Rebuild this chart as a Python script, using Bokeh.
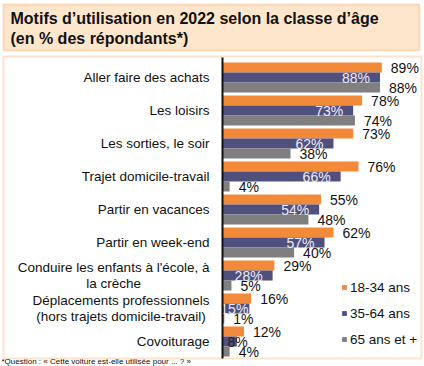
from bokeh.plotting import figure
from bokeh.models import (ColumnDataSource, Range1d, BoxAnnotation, Label,
                          Legend, LegendItem)
from bokeh.transform import dodge
from bokeh.embed import file_html
from bokeh.resources import INLINE

# ---- data ----
categories = [
    "Aller faire des achats",
    "Les loisirs",
    "Les sorties, le soir",
    "Trajet domicile-travail",
    "Partir en vacances",
    "Partir en week-end",
    "Conduire les enfants à l'école, à\nla crèche",
    "Déplacements professionnels\n(hors trajets domicile-travail)",
    "Covoiturage",
]
series_names = ["18-34 ans", "35-64 ans", "65 ans et +"]
age_18_34 = [89, 78, 73, 76, 55, 62, 29, 16, 12]
age_35_64 = [88, 73, 62, 66, 54, 57, 28, 15, 8]
age_65_plus = [88, 74, 38, 4, 48, 40, 5, 1, 4]

title_text = "Motifs d’utilisation en 2022 selon la classe d’âge\n(en % des répondants*)"
footnote_text = "*Question : « Cette voiture est-elle utilisée pour ... ? »"

# ---- style / layout ----
ORANGE = "#F38A3A"
BLUE = "#50507F"
GRAY = "#7F7F7F"
BORDER = "#F5A04E"
FONT = "Liberation Sans"

W, H = 424, 366
AX_X, AX_TOP, AX_BOT = 222, 57, 358     # value axis position in pixels
PX_PER_PCT = 1.79
PX_PER_ROW = 33.0
Y_TOP = -20.0 / PX_PER_ROW              # first row centre 20 px below axis top


def dx(px):
    return (px - AX_X) / PX_PER_PCT


def dy(py):
    return Y_TOP + (py - AX_TOP) / PX_PER_ROW


idx = list(range(len(categories)))
src = ColumnDataSource(dict(
    y=idx,
    cat=categories,
    a=age_18_34,
    b=age_35_64,
    c=age_65_plus,
    la=[f"{v}%" for v in age_18_34],
    lb=[f"{v}%" for v in age_35_64],
    lc=[f"{v}%" for v in age_65_plus],
    lb_off=[-10 if v >= 20 else (-1 if v >= 12 else 11) for v in age_35_64],
    lb_col=["#ECECF6" if v >= 12 else "#222222" for v in age_35_64],
))

p = figure(width=W, height=H, output_backend="svg", toolbar_location=None,
           x_range=Range1d(dx(0), dx(W)), y_range=Range1d(dy(H), dy(0)),
           x_axis_location=None, y_axis_location=None,
           min_border=0)
p.outline_line_color = None
p.xgrid.visible = False
p.ygrid.visible = False

# decorative boxes
p.add_layout(BoxAnnotation(left=dx(3), right=dx(419), top=dy(4), bottom=dy(50),
                           fill_color="#FDE6CC", fill_alpha=1,
                           line_color=BORDER, line_width=2, level="underlay"))
p.add_layout(BoxAnnotation(left=dx(3), right=dx(421), top=dy(56), bottom=dy(358),
                           fill_alpha=0, line_color=BORDER, line_width=2,
                           level="underlay"))

bh = 10.0 / PX_PER_ROW
r1 = p.hbar(y=dodge("y", -bh, range=p.y_range), right="a", left=0, height=bh,
            source=src, fill_color=ORANGE, line_color=None)
r2 = p.hbar(y="y", right="b", left=0, height=bh,
            source=src, fill_color=BLUE, line_color=None)
r3 = p.hbar(y=dodge("y", bh, range=p.y_range), right="c", left=0, height=bh,
            source=src, fill_color=GRAY, line_color=None)

# value axis line
p.add_layout(BoxAnnotation(left=dx(AX_X - 1), right=dx(AX_X + 1),
                           top=dy(AX_TOP), bottom=dy(AX_BOT),
                           fill_color="#111111", fill_alpha=1, line_color=None,
                           level="overlay"))

# category labels (right edge 13 px left of the axis, lines centred)
p.text(x=0, y="y", text="cat", source=src, x_offset=-13,
       anchor="center_right", text_align="center",
       text_font_size="13.5px", text_font={"value": FONT},
       text_color="#111111", text_line_height=1.1)

p.text(x="a", y=dodge("y", -bh, range=p.y_range), text="la", source=src,
       x_offset=9, text_align="left", text_baseline="middle",
       text_font_size="14px", text_font={"value": FONT}, text_color="#111111")
p.text(x="b", y="y", text="lb", source=src,
       x_offset="lb_off", text_align="right", text_baseline="middle",
       text_font_size="14px", text_font={"value": FONT}, text_color="lb_col")
p.text(x="c", y=dodge("y", bh, range=p.y_range), text="lc", source=src,
       x_offset=9, text_align="left", text_baseline="middle",
       text_font_size="14px", text_font={"value": FONT}, text_color="#111111")

legend = Legend(items=[LegendItem(label=series_names[0], renderers=[r1]),
                       LegendItem(label=series_names[1], renderers=[r2]),
                       LegendItem(label=series_names[2], renderers=[r3])],
                location=(341, 17), glyph_width=6, glyph_height=6,
                label_standoff=3, label_height=20, spacing=6, padding=0,
                margin=0, border_line_color=None, background_fill_alpha=0,
                label_text_font=FONT, label_text_font_size="13.5px",
                label_text_color="#111111")
p.add_layout(legend)

p.add_layout(Label(x=dx(10), y=dy(9), text=title_text,
                   text_font=FONT, text_font_style="bold", text_font_size="16px",
                   text_baseline="top", text_align="left", text_color="#111111"))
p.add_layout(Label(x=dx(1), y=dy(365), text=footnote_text,
                   text_font=FONT, text_font_size="8px",
                   text_baseline="bottom", text_align="left", text_color="#111111"))

open("out.html", "w").write(file_html(p, INLINE))
